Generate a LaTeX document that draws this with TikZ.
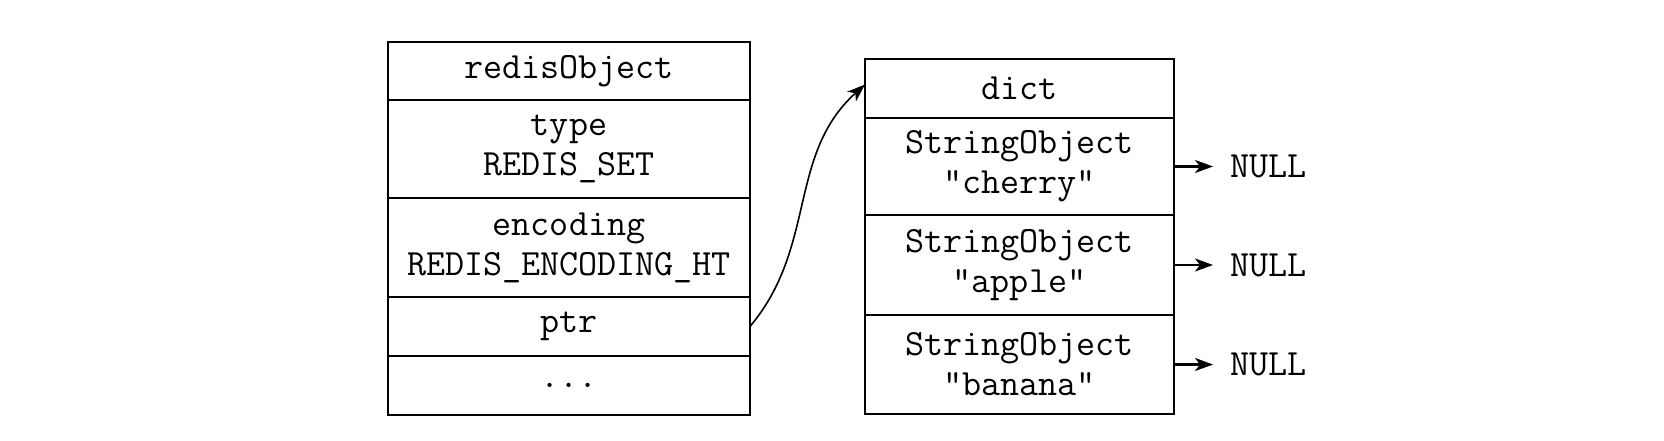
\documentclass[tikz,border=0pt]{standalone}
\usetikzlibrary{positioning,arrows.meta}

\tikzset{
  cell/.style={draw, line width=1.4pt, outer sep=0pt, inner sep=0pt, align=center,
    font=\ttfamily\fontsize{18.5}{20}\selectfont},
  objcell/.style={cell, minimum width=181pt},
  dictcell/.style={cell, minimum width=154.5pt},
  nullnode/.style={inner sep=0pt, font=\ttfamily\fontsize{18.5}{20}\selectfont},
  link/.style={-{Stealth[length=9pt,width=6.5pt,inset=2.5pt]}, line width=0.8pt},
}

\begin{document}
\begin{tikzpicture}[x=0.5pt,y=0.5pt]
\useasboundingbox (0,0) rectangle (1664,440);

% redisObject
\node[objcell, minimum height=29pt, anchor=north west] (robj) at (388,398) {redisObject};
\node[objcell, minimum height=49pt, below=0pt of robj] (type) {type\\REDIS\_SET};
\node[objcell, minimum height=49.5pt, below=0pt of type] (enc) {encoding\\REDIS\_ENCODING\_HT};
\node[objcell, minimum height=29.5pt, below=0pt of enc] (ptr) {ptr};
\node[objcell, minimum height=29.5pt, below=0pt of ptr] (more) {...};

% dict
\node[dictcell, minimum height=29.5pt, anchor=north west] (dict) at (865,381) {dict};
\node[dictcell, minimum height=48.5pt, below=0pt of dict] (cherry) {StringObject\\"cherry"};
\node[dictcell, minimum height=50pt, below=0pt of cherry] (apple) {StringObject\\"apple"};
\node[dictcell, minimum height=49.5pt, below=0pt of apple] (banana) {StringObject\\"banana"};

\node[nullnode, right=28pt of cherry] (null1) {NULL};
\node[nullnode, right=28pt of apple] (null2) {NULL};
\node[nullnode, right=28pt of banana] (null3) {NULL};

\draw[link] (ptr.east) to[out=50,in=222] ([yshift=2pt]dict.west);
\foreach \s/\n in {cherry/null1, apple/null2, banana/null3}
  \draw[link, line width=1.1pt, shorten >=8.5pt] (\s) -- (\n);
\end{tikzpicture}
\end{document}
